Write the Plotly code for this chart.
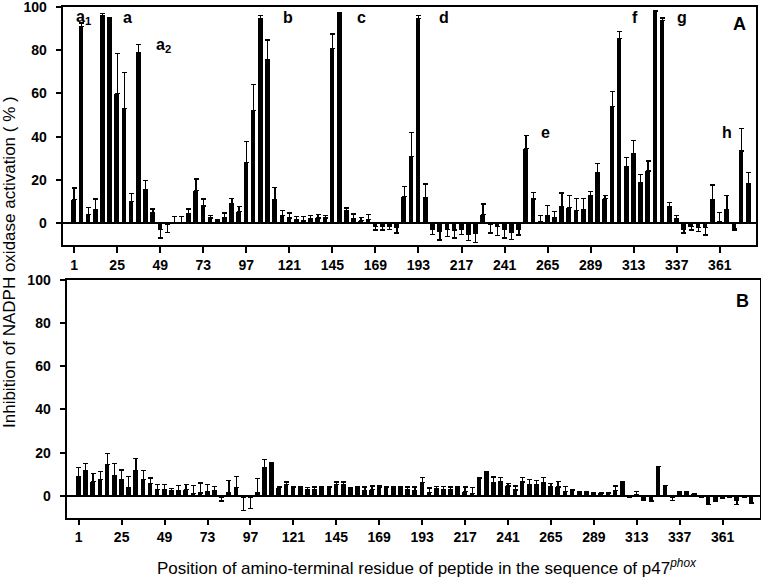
import plotly.graph_objects as go

# start residue of each peptide (every 4th residue of p47phox)
positions = list(range(1, 378, 4))

# panel A: activation (%) and error (one-sided)
act_a = [11, 91, 4, 6.5, 96, 94.6, 60, 53, 10, 79, 15.7, 5, -3, -0.3, 0.3, 0.3,
         4.6, 15, 8, 2.5, 1, 2.5, 9, 5.5, 28, 52, 94.5, 75.5, 11, 3.5, 2.5, 1.5,
         1.2, 2, 2.5, 2.5, 80.6, 97, 6, 2.2, 1.2, 1.7, -1.5, -1.2, -1.2, -2,
         12.5, 31, 94.4, 12, -3, -3.5, -3, -3.1, -2.6, -4.9, -4.5, 4.2, -0.3,
         -1.5, -2.9, -4.2, -2.6, 34.6, 11.2, 0.9, 3.8, 2.6, 7.8, 7.2, 5.8, 6.5,
         12.8, 23.5, 11.5, 53.8, 85.2, 26.2, 32, 18.6, 24.2, 98, 93.8, 7.8, 2,
         -2.6, -1.4, -1.8, -1.8, 10.9, 0.9, 6.3, -2.6, 33.4, 18.3]
err_a = [5.3, 1.5, 3.2, 4.7, 0.8, 0.3, 18.5, 16.8, 3.8, 3.6, 4, 1.6, 3.8, 4, 3, 3,
         2, 5.5, 3.2, 1, 0.5, 2.3, 2.6, 2.3, 9.6, 12.1, 1.5, 9.1, 5.4, 2.3, 2.3, 1.7,
         2, 1.7, 1.7, 1.3, 6.8, 0.5, 1.1, 2.1, 1.6, 2.3, 1.6, 1.9, 1.8, 2.5,
         4.4, 10.8, 1.6, 6.2, 2.2, 4.2, 3.2, 3.7, 2.6, 3.1, 4.3, 4.7, 4.2,
         4.2, 3.9, 3.3, 2.8, 6, 3.1, 2.6, 4.5, 2.8, 6.2, 5.7, 5.7, 5,
         1.8, 4.2, 1.4, 7.1, 3.4, 4.3, 6.2, 3.9, 4.6, 0, 1, 1.9, 1.7,
         1.9, 1.7, 2, 3.6, 6.8, 4.2, 6.6, 0.5, 10.3, 5.2]

# panel B: inhibition (%) and error
inh_b = [9.2, 11.8, 6.8, 7.7, 14.5, 9.5, 7.4, 3.8, 11.7, 7.7, 5.7, 2.9, 2.9, 2.3,
         2.5, 3.1, 1.1, 1.4, 2, 2.3, -0.5, 1.5, 3.8, -0.5, -0.5, 1.5, 13.2, 15.4,
         4, 5.4, 4, 4, 2.9, 3.1, 4, 4, 5.4, 5.4, 3.8, 4, 2.3, 3.1, 4, 4, 3.7, 4,
         3.1, 2.5, 6.2, 1.8, 3.4, 3.1, 2.9, 3.4, 2.2, 1.1, 8, 10.3, 6.3, 6.5,
         4.6, 2.8, 6.5, 5.2, 5.4, 6, 4.5, 4.2, 2.2, 2.8, 2, 2, 1.5, 1.4, 1.4,
         2.5, 6.5, -0.5, 0.6, -1.5, -2.3, 13.5, 4.8, -0.5, 1.8, 1.8, 0.9, -0.3,
         -3.8, -1.8, -0.9, -0.3, -2, -0.3, -3.1]
err_b = [3.9, 3.3, 3.5, 3.7, 5.2, 5.6, 4.6, 5.4, 5.7, 4.1, 2.6, 2.5, 2.5, 1.2,
         2.4, 2.3, 3.8, 4.6, 3.5, 2.2, 1.8, 5.6, 5.1, 6.3, 5.3, 6.7, 3.8, 0,
         0.5, 1.1, 0.2, 0.2, 1.1, 1.1, 0.2, 0.2, 1.1, 1.1, 0.2, 0.2, 1.9, 1.5, 0.6, 0.2, 0.8, 0.2,
         1.1, 1.7, 2.4, 1.9, 1.1, 1.4, 1.3, 0.8, 2, 3, 0.3, 0.8, 2.5, 2,
         1.2, 1.8, 2, 2.5, 1.8, 2.5, 1.3, 2.4, 2.1, 0.3, 0.2, 0.2, 0.2, 0.2, 0.2,
         2.1, 0.2, 0.2, 1.6, 0.5, 0.3, 0, 0, 1.5, 0.2, 0.2, 0.2, 0.2,
         0.2, 0.7, 0.2, 0.2, 1.8, 0.2, 0.3]

xticks = list(range(1, 362, 24))
yticks = [0, 20, 40, 60, 80, 100]

# peptide labels of panel A
pep_labels = ["a<sub>1</sub>", "a", "a<sub>2</sub>", "b", "c", "d", "e", "f", "g", "h"]
pep_x = [6, 31, 51, 120, 161, 207, 264, 314, 340, 365]
pep_y = [95, 95, 82, 95, 95, 95, 42, 95, 95, 42]

FONT = "Liberation Sans"


def one_sided(vals, errs):
    up = [e if v >= 0 else 0 for v, e in zip(vals, errs)]
    down = [e if v < 0 else 0 for v, e in zip(vals, errs)]
    return up, down


fig = go.Figure()

for vals, errs, xa, ya in [(act_a, err_a, "x", "y"), (inh_b, err_b, "x2", "y2")]:
    up, down = one_sided(vals, errs)
    fig.add_trace(
        go.Bar(
            x=positions,
            y=vals,
            width=2.6,
            marker=dict(color="black", line=dict(width=0)),
            error_y=dict(
                type="data",
                symmetric=False,
                array=up,
                arrayminus=down,
                color="black",
                thickness=1.2,
                width=2.5
            ),
            xaxis=xa,
            yaxis=ya,
            showlegend=False
        )
    )

axis_common = dict(
    showline=True,
    linecolor="black",
    linewidth=1.5,
    mirror=True,
    ticks="outside",
    ticklen=6,
    tickwidth=1.5,
    tickcolor="black",
    showgrid=False,
    automargin=False,
    ticklabeloverflow="allow",
    tickfont=dict(family=FONT, size=14, color="black", weight="bold")
)

fig.update_layout(
    width=761,
    height=577,
    margin=dict(l=0, r=0, t=0, b=0),
    plot_bgcolor="white",
    paper_bgcolor="white",
    bargap=0,
    xaxis=dict(domain=[0.0832, 0.9930], range=[-5, 381], tickvals=xticks,
               anchor="y", zeroline=False, **axis_common),
    yaxis=dict(domain=[0.5754, 0.9884], range=[-10, 100], tickvals=yticks,
               anchor="x", zeroline=True, zerolinecolor="black", zerolinewidth=1.5,
               ticklabelstandoff=6, **axis_common),
    xaxis2=dict(domain=[0.0884, 0.9985], range=[-5.4, 381.8], tickvals=xticks,
                anchor="y2", zeroline=False, **axis_common),
    yaxis2=dict(domain=[0.1028, 0.5154], range=[-10, 100], tickvals=yticks,
                anchor="x2", zeroline=True, zerolinecolor="black", zerolinewidth=1.5,
                ticklabelstandoff=6, **axis_common),
)

for t, x, y in zip(pep_labels, pep_x, pep_y):
    fig.add_annotation(x=x, y=y, xref="x", yref="y", text=t, showarrow=False,
                       font=dict(family=FONT, size=16, color="black", weight="bold"))

fig.add_annotation(x=372, y=92, xref="x", yref="y", text="A", showarrow=False,
                   font=dict(family=FONT, size=18, color="black", weight="bold"))
fig.add_annotation(x=372, y=90, xref="x2", yref="y2", text="B", showarrow=False,
                   font=dict(family=FONT, size=18, color="black", weight="bold"))

fig.add_annotation(
    x=10 / 761, y=1 - 262 / 577, xref="paper", yref="paper",
    xanchor="center", yanchor="middle",
    text="Inhibition of NADPH oxidase activation ( % )",
    textangle=-90, showarrow=False,
    font=dict(family=FONT, size=17, color="black")
)
fig.add_annotation(
    x=427 / 761, y=1 - 567 / 577, xref="paper", yref="paper",
    xanchor="center", yanchor="middle",
    text="Position of amino-terminal residue of peptide in the sequence of p47<sup><i>phox</i></sup>",
    showarrow=False,
    font=dict(family=FONT, size=17, color="black")
)

fig.write_html("out.html", config={"displayModeBar": False},
               post_script="document.body.style.margin='0px';")
